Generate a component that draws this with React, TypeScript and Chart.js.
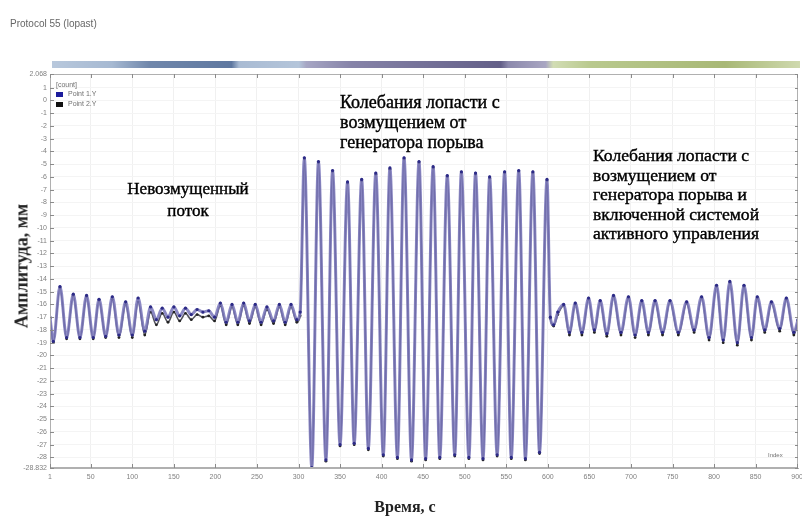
import React, { useEffect, useRef } from 'react';
import { Chart, registerables } from 'chart.js';
Chart.register(...registerables);

const chartTitle = 'Protocol 55 (lopast)';
const yAxisTitle = 'Амплитуда, мм';
const xAxisTitle = 'Время, с';
const legendHeader = '[count]';
const seriesNames = ['Point 1.Y', 'Point 2.Y'];
const indexLabel = 'Index';

const timeIndex = [
  1, 5, 13, 21, 29, 37, 45, 53, 60, 68, 76, 84, 92, 100, 107, 115, 122, 129, 136, 143,
  150, 157, 164, 171, 178, 185, 192, 199, 206, 213, 220, 227, 234, 241, 248, 255, 262, 270, 277, 284,
  291, 298,
  302, 307, 316, 324, 333, 341, 350, 359, 367, 376, 384, 393, 402, 410, 419, 427, 436, 445, 453, 462,
  470, 479, 488, 496, 505, 513, 522, 530, 539, 548, 556, 565, 573, 582, 590, 599,
  603, 607, 612, 619, 626, 633, 641, 649, 656, 663, 671, 679, 688, 697, 705, 713, 721, 729, 738, 747,
  757, 767, 776, 785, 794, 803, 811, 819, 828, 836, 845, 852, 861, 869, 879, 887, 896, 901,
];

const point1Y = [
  -17.0, -18.9, -14.6, -18.6, -15.2, -18.6, -15.3, -18.6, -15.6, -18.5, -15.4, -18.4, -15.8, -18.4, -15.5, -18.1, -16.2, -17.2, -16.3, -17.0,
  -16.2, -16.9, -16.3, -16.8, -16.4, -16.6, -16.5, -17.0, -15.9, -17.4, -16.0, -17.4, -15.9, -17.3, -16.0, -17.4, -16.2, -17.3, -16.0, -17.4,
  -16.0, -17.2,
  -16.6, -4.5, -28.8, -4.8, -28.2, -5.5, -27.0, -6.4, -26.9, -6.2, -27.3, -5.7, -27.8, -5.3, -28.0, -4.5, -28.2, -4.8, -28.1, -5.2,
  -28.0, -5.9, -27.8, -5.6, -28.0, -5.7, -28.1, -6.0, -27.8, -5.6, -28.0, -5.5, -28.1, -5.6, -27.6, -6.2,
  -17.0, -17.6, -16.6, -16.0, -18.2, -15.9, -18.2, -15.5, -18.0, -15.7, -18.3, -15.3, -18.2, -15.4, -18.4, -15.7, -18.2, -15.7, -18.2, -15.7,
  -18.2, -15.8, -18.0, -15.4, -18.6, -14.5, -18.8, -14.2, -19.0, -14.5, -18.6, -15.4, -18.0, -15.8, -17.9, -15.5, -18.2, -17.2,
];

const point2Y = [
  -17.1, -19.0, -14.7, -18.7, -15.3, -18.7, -15.4, -18.7, -15.7, -18.6, -15.6, -18.6, -16.0, -18.6, -15.8, -18.4, -16.6, -17.6, -16.7, -17.4,
  -16.6, -17.3, -16.7, -17.2, -16.8, -17.0, -16.9, -17.3, -16.1, -17.6, -16.2, -17.6, -16.1, -17.5, -16.2, -17.6, -16.4, -17.5, -16.2, -17.6,
  -16.2, -17.4,
  -16.9, -4.6, -28.8, -4.9, -28.3, -5.6, -27.1, -6.5, -27.0, -6.3, -27.4, -5.8, -27.9, -5.4, -28.1, -4.6, -28.3, -4.9, -28.2, -5.3,
  -28.1, -6.0, -27.9, -5.7, -28.1, -5.8, -28.2, -6.1, -27.9, -5.7, -28.1, -5.6, -28.2, -5.7, -27.7, -6.3,
  -17.1, -17.7, -16.8, -16.1, -18.4, -16.0, -18.4, -15.6, -18.2, -15.8, -18.5, -15.4, -18.4, -15.5, -18.6, -15.8, -18.4, -15.8, -18.4, -15.8,
  -18.4, -15.9, -18.2, -15.5, -18.8, -14.6, -19.0, -14.3, -19.2, -14.6, -18.8, -15.5, -18.2, -15.9, -18.1, -15.6, -18.4, -17.3,
];

const xTickValues = [1, 50, 100, 150, 200, 250, 300, 350, 400, 450, 500, 550, 600, 650, 700, 750, 800, 850, 900];
const yTickValues = [
  2.068, 1, 0, -1, -2, -3, -4, -5, -6, -7, -8, -9, -10, -11, -12, -13, -14, -15, -16, -17,
  -18, -19, -20, -21, -22, -23, -24, -25, -26, -27, -28, -28.832,
];
const xMin = 1;
const xMax = 901;
const yMin = -28.832;
const yMax = 2.068;

const annotationCalm = ['Невозмущенный', 'поток'];
const annotationGust = ['Колебания лопасти с', 'возмущением от', 'генератора порыва'];
const annotationControl = [
  'Колебания лопасти с',
  'возмущением от',
  'генератора порыва и',
  'включенной системой',
  'активного управления',
];

const frameTicks = {
  id: 'frameTicks',
  afterDraw(chart: any) {
    const { ctx, chartArea: a, scales } = chart;
    ctx.save();
    ctx.strokeStyle = '#b0b0b0';
    ctx.lineWidth = 1;
    ctx.strokeRect(a.left + 0.5, a.top + 0.5, a.right - a.left - 1, a.bottom - a.top - 1);
    ctx.strokeStyle = '#8a8a8a';
    ctx.beginPath();
    for (const v of yTickValues) {
      const y = Math.round(scales.y.getPixelForValue(v)) + 0.5;
      ctx.moveTo(a.left, y);
      ctx.lineTo(a.left + 4, y);
      ctx.moveTo(a.right, y);
      ctx.lineTo(a.right - 3, y);
    }
    for (const v of xTickValues) {
      const x = Math.round(scales.x.getPixelForValue(v)) + 0.5;
      ctx.moveTo(x, a.bottom);
      ctx.lineTo(x, a.bottom - 4);
      ctx.moveTo(x, a.top);
      ctx.lineTo(x, a.top + 4);
    }
    ctx.stroke();
    ctx.restore();
  },
};

export default function App() {
  const ref = useRef<HTMLCanvasElement>(null);
  useEffect(() => {
    if (!ref.current) return;
    const chart = new Chart(ref.current, {
      type: 'line',
      data: {
        datasets: [
          {
            label: seriesNames[0],
            data: timeIndex.map((x, i) => ({ x, y: point1Y[i] })),
            borderColor: 'rgba(120,116,186,0.85)',
            borderWidth: 3,
            pointRadius: 1.6,
            pointBackgroundColor: '#2c2a86',
            pointBorderWidth: 0,
            cubicInterpolationMode: 'monotone',
            fill: false,
          },
          {
            label: seriesNames[1],
            data: timeIndex.map((x, i) => ({ x, y: point2Y[i] })),
            borderColor: 'rgba(50,50,62,0.85)',
            borderWidth: 1.6,
            pointRadius: 1.4,
            pointBackgroundColor: '#222',
            pointBorderWidth: 0,
            cubicInterpolationMode: 'monotone',
            fill: false,
          },
        ],
      },
      options: {
        animation: false,
        responsive: false,
        maintainAspectRatio: false,
        layout: { padding: { left: 0, right: 2, top: 74, bottom: 0 } },
        plugins: { legend: { display: false }, tooltip: { enabled: false }, title: { display: false } },
        scales: {
          x: {
            type: 'linear',
            min: xMin,
            max: xMax,
            afterBuildTicks: (s: any) => {
              s.ticks = xTickValues.map((v) => ({ value: v }));
            },
            afterFit: (s: any) => {
              s.height = 51;
              s.paddingLeft = 0;
              s.paddingRight = 0;
            },
            ticks: {
              autoSkip: false,
              maxRotation: 0,
              padding: 5,
              color: '#808080',
              font: { size: 7, family: 'Liberation Sans' },
              callback: (v: any) => String(v),
            },
            grid: { color: '#f0f0f0', drawTicks: false },
            border: { color: '#b0b0b0' },
          },
          y: {
            type: 'linear',
            min: yMin,
            max: yMax,
            afterBuildTicks: (s: any) => {
              s.ticks = yTickValues.map((v) => ({ value: v }));
            },
            afterFit: (s: any) => {
              s.width = 50;
              s.paddingTop = 0;
              s.paddingBottom = 0;
            },
            ticks: {
              autoSkip: false,
              padding: 3,
              color: '#808080',
              font: { size: 7, family: 'Liberation Sans' },
              callback: (v: any) => String(v),
            },
            grid: { color: '#f4f4f4', drawTicks: false },
            border: { color: '#b0b0b0' },
          },
        },
      },
      plugins: [frameTicks],
    });
    return () => chart.destroy();
  }, []);

  const serif = '"Liberation Serif", "Times New Roman", serif';
  const annStyle: React.CSSProperties = {
    position: 'absolute',
    fontFamily: serif,
    fontSize: 18,
    fontWeight: 'normal',
    color: '#000',
    WebkitTextStroke: '0.4px #000',
    whiteSpace: 'nowrap',
    lineHeight: '20px',
  };
  const smallSans: React.CSSProperties = {
    fontFamily: '"Liberation Sans", Arial, sans-serif',
    fontSize: 7,
    color: '#707070',
  };

  return (
    <div style={{ position: 'absolute', left: 0, top: 0, width: 802, height: 519, background: '#fff', overflow: 'hidden' }}>
      <canvas ref={ref} width={802} height={519} style={{ position: 'absolute', left: 0, top: 0 }} />
      <div style={{ position: 'absolute', left: 10, top: 18, fontFamily: '"Liberation Sans", Arial, sans-serif', fontSize: 10, color: '#666' }}>
        {chartTitle}
      </div>
      <div
        style={{
          position: 'absolute',
          left: 52,
          top: 61,
          width: 748,
          height: 7,
          background:
            'linear-gradient(to right, #b8c8dc 0%, #a6b9d2 8%, #7087ab 13%, #5f78a0 24%, #a9bbd3 25%, #b4c5da 33%, #a7a6c4 34%, #8683a8 40%, #635f88 60%, #8c89ac 61%, #a9a6c2 66%, #d2ddb4 67%, #b9c98e 72%, #a8b876 90%, #cfd9ae 100%)',
        }}
      />
      <div style={{ position: 'absolute', left: 56, top: 80, ...smallSans }}>
        <div style={{ lineHeight: '9px' }}>{legendHeader}</div>
        <div style={{ lineHeight: '10px', display: 'flex', alignItems: 'center' }}>
          <span style={{ display: 'inline-block', width: 7, height: 5, background: '#1c1c9c', marginRight: 5 }} />
          {seriesNames[0]}
        </div>
        <div style={{ lineHeight: '10px', display: 'flex', alignItems: 'center' }}>
          <span style={{ display: 'inline-block', width: 7, height: 5, background: '#111', marginRight: 5 }} />
          {seriesNames[1]}
        </div>
      </div>
      <div style={{ position: 'absolute', left: 768, top: 452, ...smallSans, fontSize: 6 }}>{indexLabel}</div>
      <div
        style={{
          position: 'absolute',
          left: 22,
          top: 266,
          transform: 'translate(-50%, -50%) rotate(-90deg)',
          fontFamily: serif,
          fontSize: 18,
          fontWeight: 'bold',
          color: '#222',
          whiteSpace: 'nowrap',
        }}
      >
        {yAxisTitle}
      </div>
      <div
        style={{
          position: 'absolute',
          left: 405,
          top: 507,
          transform: 'translate(-50%, -50%)',
          fontFamily: serif,
          fontSize: 16,
          fontWeight: 'bold',
          color: '#222',
          whiteSpace: 'nowrap',
        }}
      >
        {xAxisTitle}
      </div>
      <div style={{ ...annStyle, fontSize: 17, left: 188, top: 178, transform: 'translateX(-50%)', textAlign: 'center', lineHeight: '22px' }}>
        {annotationCalm.map((t, i) => (
          <div key={i}>{t}</div>
        ))}
      </div>
      <div style={{ ...annStyle, left: 340, top: 92 }}>
        {annotationGust.map((t, i) => (
          <div key={i}>{t}</div>
        ))}
      </div>
      <div style={{ ...annStyle, fontSize: 17.6, left: 593, top: 146, lineHeight: '19.5px' }}>
        {annotationControl.map((t, i) => (
          <div key={i}>{t}</div>
        ))}
      </div>
    </div>
  );
}
